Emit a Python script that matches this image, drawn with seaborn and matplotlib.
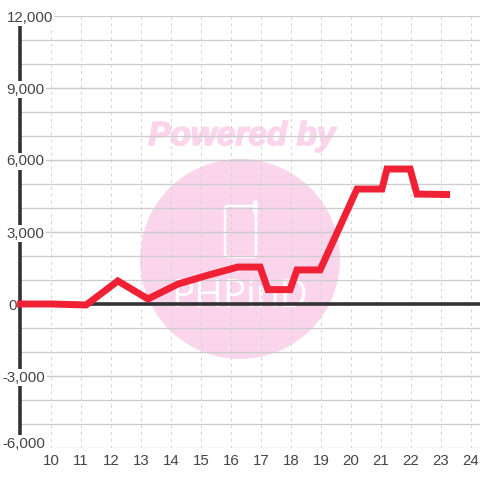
#!/usr/bin/env python3
"""Line chart with a thick red series over a pale watermark."""

import matplotlib

matplotlib.use("Agg")

import matplotlib.pyplot as plt
import matplotlib.patheffects as pe
import pandas as pd
import seaborn as sns
from matplotlib.patches import Circle, FancyBboxPatch

x_values = [8.87, 10, 11.17, 12.23, 13.23, 14.23, 15.23, 16.23, 16.97, 17.23,
            17.97, 18.2, 18.97, 20.2, 21.03, 21.2, 21.97, 22.2, 23.3]
y_values = [0, 0, -40, 960, 210, 830, 1200, 1540, 1540, 600,
            600, 1420, 1420, 4790, 4790, 5625, 5625, 4580, 4560]
x_ticks = list(range(10, 25))
y_major = [12000, 9000, 6000, 3000, 0, -3000, -6000]
y_minor = list(range(-5000, 12000, 1000))

PINK = "#fbd5ec"
RED = "#f02035"
DARK = "#333333"
GRID = "#cccccc"
DASH = "#d2d2d2"
TEXT = "#444444"

sns.set_theme(style="white")
plt.rcParams["font.family"] = ["Liberation Sans", "DejaVu Sans"]

fig = plt.figure(figsize=(4.8, 4.8), dpi=100)

# watermark sits behind the chart, in pixel coordinates
bg = fig.add_axes([0, 0, 1, 1], zorder=0)
bg.set_xlim(0, 480)
bg.set_ylim(480, 0)
bg.axis("off")
bg.add_patch(Circle((240, 259), 100, color=PINK, lw=0))
bg.text(242, 145, "Powered by", color=PINK, fontsize=24, fontweight="bold",
        fontstyle="italic", ha="center", va="baseline",
        path_effects=[pe.withStroke(linewidth=1.2, foreground=PINK)])
bg.add_patch(FancyBboxPatch((225, 206), 31, 51, boxstyle="round,pad=0,rounding_size=3",
                            fc="none", ec="white", lw=1.8))
bg.plot([255, 255], [202, 212], color="white", lw=3.4, solid_capstyle="round")
bg.text(240, 307, "PHPinD", color="white", fontsize=28, family="Open Sans",
        ha="center", va="baseline")

ax = fig.add_axes([20 / 480, 32 / 480, 460 / 480, 432 / 480], zorder=1)
ax.patch.set_alpha(0)
ax.set_xlim((20 - 51) / 30 + 10, (480 - 51) / 30 + 10)
ax.set_ylim(-6000, 12000)

for v in x_ticks:
    ax.axvline(v, color=DASH, lw=0.7, ls=(0, (3, 4)), zorder=1)
for v in y_major + y_minor:
    if v != 0:
        ax.axhline(v, color=GRID, lw=0.9, zorder=1)
ax.axhline(0, color=DARK, lw=2.6, zorder=2)

for side in ["top", "right", "bottom"]:
    ax.spines[side].set_visible(False)
ax.spines["left"].set_linewidth(2.6)
ax.spines["left"].set_color(DARK)
ax.spines["left"].set_zorder(2)

ax.set_xticks(x_ticks)
ax.set_yticks([])
ax.tick_params(axis="x", length=0, pad=4, labelsize=10.8, labelcolor=TEXT)

for v in y_major:
    label = f"{v:,}"
    lift = 6 if v == -6000 else 0
    left = 2.7 if v < 0 else 8 if v == 0 else 6.5
    y_px = 304 - v * 0.024 - lift
    fig.text(left / 480, 1 - y_px / 480, label, color=TEXT, fontsize=10.8, ha="left",
             va="center_baseline", zorder=3,
             bbox=dict(fc="white", ec="none", pad=1) if v != 0 else None)

df = pd.DataFrame({"x": x_values, "y": y_values})
sns.lineplot(data=df, x="x", y="y", sort=False, errorbar=None, color=RED, lw=5,
             ax=ax, zorder=4, clip_on=False, solid_capstyle="butt", solid_joinstyle="miter")
ax.set_xlabel("")
ax.set_ylabel("")

fig.savefig("out.png", dpi=100)
